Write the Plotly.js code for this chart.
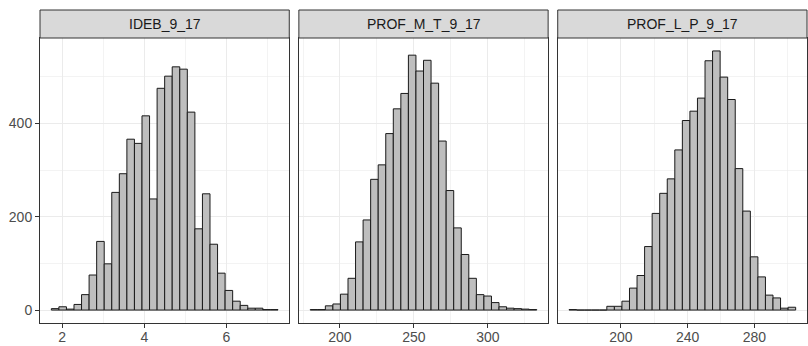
<!DOCTYPE html>
<html><head><meta charset="utf-8">
<script src="https://cdn.plot.ly/plotly-3.0.1.min.js"></script>
<style>html,body{margin:0;padding:0;background:#fff}#chart{width:808px;height:346px}</style>
</head><body><div id="chart"></div><script>
const panelTitles = ["IDEB_9_17", "PROF_M_T_9_17", "PROF_L_P_9_17"];
const idebCounts = [3,7,2,12,33,75,147,99,252,292,366,357,416,238,475,501,521,516,424,174,249,141,79,42,19,10,4,4,1,1];
const profMTCounts = [1,1,9,13,34,68,146,193,280,311,378,431,464,546,512,535,486,362,256,176,119,68,33,30,16,7,4,3,2,1];
const profLPCounts = [1,0,0,0,0,8,8,19,47,74,136,207,250,281,343,406,426,454,534,555,499,451,303,212,114,71,32,26,4,6];
const binStarts = [1.734, 179.9, 168.9];
const binWidths = [0.1841, 5.107, 4.53];
const xRanges = [[1.458, 7.532], [172.2, 340.8], [162.1, 311.6]];
const xMajorStep = [2, 50, 40];
const xMinorStep = [1, 25, 20];
const yRange = [-27.75, 582.75];
const yMajorStep = 200;
const yMinorStep = 100;

const allCounts = [idebCounts, profMTCounts, profLPCounts];
const domains = [[0, 0.325], [0.3375, 0.6625], [0.675, 1]];
const font = "Liberation Sans, Arial, sans-serif";
const grid = "#EBEBEB";
const border = "#333333";

const traces = allCounts.map((counts, p) => ({
  type: "bar",
  x: counts.map((_, i) => binStarts[p] + binWidths[p] * (i + 0.5)),
  y: counts,
  width: binWidths[p],
  xaxis: p === 0 ? "x" : "x" + (p + 1),
  yaxis: p === 0 ? "y" : "y" + (p + 1),
  marker: {color: "#BEBEBE", line: {color: "#1A1A1A", width: 1}},
  hoverinfo: "x+y",
  showlegend: false
}));

const layout = {
  width: 808, height: 346,
  margin: {l: 40, r: 1, t: 38, b: 23},
  paper_bgcolor: "#ffffff", plot_bgcolor: "#ffffff",
  font: {family: font, size: 14, color: "#4D4D4D"},
  bargap: 0,
  shapes: [], annotations: []
};
const stripH = 28 / 285;
for (let p = 0; p < 3; p++) {
  const xs = p === 0 ? "xaxis" : "xaxis" + (p + 1);
  const ys = p === 0 ? "yaxis" : "yaxis" + (p + 1);
  layout[xs] = {
    domain: domains[p], range: xRanges[p], anchor: p === 0 ? "y" : "y" + (p + 1),
    tick0: 0, dtick: xMajorStep[p],
    showgrid: true, gridcolor: grid, gridwidth: 1, zeroline: false,
    minor: {tick0: 0, dtick: xMinorStep[p], showgrid: true, gridcolor: grid, gridwidth: 0.6, ticks: ""},
    ticks: "outside", ticklen: 4, tickcolor: border, tickwidth: 1,
    ticklabelstandoff: -3,
    showline: true, mirror: true, linecolor: border, linewidth: 1,
    tickfont: {family: font, size: 14, color: "#4D4D4D"}
  };
  layout[ys] = {
    domain: [0, 1], range: yRange, anchor: p === 0 ? "x" : "x" + (p + 1),
    tick0: 0, dtick: yMajorStep,
    showgrid: true, gridcolor: grid, gridwidth: 1, zeroline: false,
    minor: {tick0: 0, dtick: yMinorStep, showgrid: true, gridcolor: grid, gridwidth: 0.6, ticks: ""},
    ticks: p === 0 ? "outside" : "", ticklen: 4, tickcolor: border, tickwidth: 1,
    showticklabels: p === 0,
    showline: true, mirror: true, linecolor: border, linewidth: 1,
    tickfont: {family: font, size: 14, color: "#4D4D4D"}
  };
  layout.shapes.push({
    type: "rect", xref: "paper", yref: "paper",
    x0: domains[p][0], x1: domains[p][1], y0: 1, y1: 1 + stripH,
    fillcolor: "#D9D9D9", line: {color: border, width: 1}
  });
  layout.annotations.push({
    xref: "paper", yref: "paper", x: (domains[p][0] + domains[p][1]) / 2, y: 1 + stripH / 2,
    text: panelTitles[p], showarrow: false, xanchor: "center", yanchor: "middle",
    font: {family: font, size: 14, color: "#1A1A1A"}
  });
}
Plotly.newPlot("chart", traces, layout, {displayModeBar: false, staticPlot: true});
</script></body></html>
